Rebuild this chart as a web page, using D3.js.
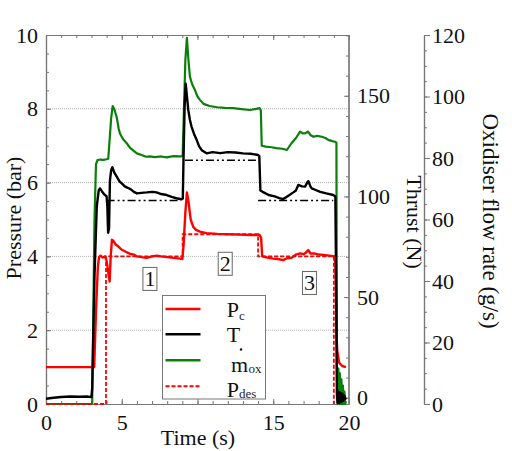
<!DOCTYPE html>
<html>
<head>
<meta charset="utf-8">
<script src="https://cdn.jsdelivr.net/npm/d3@7"></script>
<style>
  html, body { margin: 0; padding: 0; background: #fff; }
  svg { display: block; }
</style>
</head>
<body>
<svg id="chart" width="512" height="451"></svg>
<script>
// ---------------- data ----------------
// Chamber pressure P_c (bar) vs time (s)
const pcSeries = [[0,1.0],[3.18,1.0],[3.3,2.5],[3.42,3.7],[3.5,3.98],[3.6,4.02],[3.75,3.97],[3.9,4.0],[4.0,3.88],[4.1,3.6],[4.2,3.32],[4.27,4.0],[4.35,4.45],[4.45,4.42],[4.6,4.32],[4.8,4.26],[5.0,4.18],[5.3,4.12],[5.55,4.07],[5.8,4.05],[6.0,4.0],[6.3,3.98],[6.65,3.96],[7.0,4.0],[7.3,4.02],[7.6,4.0],[8.0,3.98],[8.4,3.96],[8.85,3.94],[9.0,3.93],[9.08,4.3],[9.2,5.2],[9.3,5.73],[9.4,5.5],[9.55,5.0],[9.72,4.8],[9.9,4.72],[10.16,4.67],[10.6,4.63],[11.3,4.61],[12.0,4.6],[12.8,4.59],[13.5,4.58],[14.1,4.58],[14.2,4.5],[14.27,4.0],[14.6,3.97],[15.0,3.94],[15.3,3.93],[15.66,3.9],[15.9,3.95],[16.2,3.96],[16.5,4.05],[16.77,4.08],[17.0,4.06],[17.15,4.1],[17.32,4.17],[17.45,4.08],[17.7,4.08],[18.0,4.05],[18.3,4.04],[18.7,4.02],[19.08,4.0],[19.12,3.5],[19.17,2.0],[19.22,1.45],[19.35,1.12],[19.55,1.03],[19.8,1.0]];
// Thrust T (N)
const thrustSeries = [[0,-0.5],[0.5,0],[1.0,0.4],[1.6,0.6],[2.2,0.5],[2.7,0.6],[3.0,0.3],[3.05,5],[3.2,60],[3.35,95],[3.48,103],[3.56,104],[3.7,102.5],[3.85,101],[4.0,100],[4.05,95],[4.1,82],[4.16,84],[4.22,108],[4.3,113],[4.38,114.5],[4.5,112],[4.66,110],[4.85,107.5],[5.0,106.5],[5.2,105],[5.4,104.3],[5.6,103.5],[5.8,102.3],[6.0,101.5],[6.3,101.8],[6.65,102],[7.0,102.3],[7.3,102],[7.6,101.2],[7.97,100.7],[8.3,99.8],[8.6,99.1],[8.95,98.6],[9.03,99],[9.08,120],[9.15,145],[9.22,156],[9.3,150],[9.39,143],[9.5,138],[9.61,134.6],[9.8,130.5],[9.95,128],[10.1,125],[10.28,123],[10.6,121.4],[11.0,122],[11.5,121.5],[12.0,122],[12.5,121.8],[13.0,121.4],[13.5,121.2],[14.0,120.6],[14.08,120],[14.15,103],[14.3,102.3],[14.7,100.7],[15.1,100],[15.4,99.2],[15.66,98.7],[15.9,99.9],[16.3,101.9],[16.5,103],[16.65,105.7],[16.9,105],[17.1,104.9],[17.25,107],[17.32,107.6],[17.45,105],[17.54,104],[17.8,103.2],[18.1,102.3],[18.5,101.5],[18.96,100.7],[19.1,100],[19.17,40],[19.2,2],[19.25,-2.5],[19.3,3],[19.37,-2.5],[19.44,2.5],[19.5,-2],[19.57,2],[19.63,-1.5],[19.7,1],[19.76,-0.5],[19.8,0]];
// Oxidiser mass flow rate (g/s)
const moxSeries = [[0,0],[3.05,0],[3.1,20],[3.2,60],[3.3,78],[3.4,79.3],[3.6,79.5],[3.8,79.4],[4.0,79.6],[4.11,79.8],[4.2,86],[4.3,93],[4.4,96.9],[4.5,96],[4.66,93.4],[4.8,89.5],[4.88,88],[5.1,86],[5.33,84.8],[5.55,83.3],[5.77,82.4],[6.0,81.5],[6.31,81],[6.6,80.4],[6.85,80.5],[7.2,80.3],[7.6,80.5],[7.97,80.2],[8.4,80.6],[8.85,80.5],[9.02,80.6],[9.1,95],[9.2,112],[9.3,119.1],[9.4,112],[9.5,106.4],[9.65,104],[9.83,102.1],[10.0,100],[10.16,98.9],[10.4,97.6],[10.8,96.9],[11.3,96.5],[11.8,96.3],[12.36,96.2],[12.9,95.9],[13.47,95.6],[14.1,96.2],[14.18,95.5],[14.24,84],[14.5,83.7],[14.9,83.5],[15.2,83.2],[15.6,83.0],[15.9,82.6],[16.2,84.8],[16.5,86.5],[16.77,88.6],[16.95,88.0],[17.1,88],[17.3,88.6],[17.45,87.5],[17.65,86.9],[17.9,87.2],[18.2,86.9],[18.45,86.5],[18.63,85.9],[18.9,85.5],[19.08,85.3],[19.17,85],[19.2,13],[19.24,0],[19.3,11.5],[19.35,0],[19.4,10],[19.45,0],[19.5,8],[19.55,0],[19.6,6],[19.65,0],[19.7,4],[19.75,0],[19.8,1]];
// Desired pressure P_des (bar)
const pdesSeries = [[0,0],[3.96,0],[3.96,4.0],[9.02,4.0],[9.02,4.6],[14.0,4.6],[14.0,4.0],[19.0,4.0],[19.0,0]];
// Desired thrust (N), null = gap
const tdesSeries = [[4.0,98],[8.9,98],null,[9.17,118],[14.0,118],null,[14.0,98],[18.96,98]];
// phase annotations
const phaseLabels = ["1","2","3"];
const phaseTimes = [6.86, 11.83, 17.39];
const phasePressures = [3.39, 3.8, 3.28];
// ticks
const xTickLabels = [0, 5, 15, 20];
const pressureTicks = [0, 2, 4, 6, 8, 10];
const pressureGrid = [2, 4, 6, 8];
const thrustTicks = [0, 50, 100, 150];
const moxTicks = [0, 20, 40, 60, 80, 100, 120];
const legendNames = ["P", "T", "m", "P"];
const legendSubs = ["c", "", "ox", "des"];

// ---------------- chart ----------------
const FONT = '"Liberation Serif"';
const svg = d3.select("#chart");
const L = 46, R = 349, T = 35, B = 404, AX3 = 424;
const x = d3.scaleLinear([0, 20], [L, R]);
const yP = d3.scaleLinear([0, 10], [B, T]);
const yT = d3.scaleLinear([-3.1, 180.2], [B, T]);
const yM = d3.scaleLinear([0, 120], [B, T]);
const axisCol = "#777";

// grid
svg.append("g").selectAll("line").data(pressureGrid).join("line")
  .attr("x1", L).attr("x2", R).attr("y1", d => yP(d)).attr("y2", d => yP(d))
  .attr("stroke", "#999").attr("stroke-width", 0.8).attr("stroke-dasharray", "1,1");

function styleAxis(g, fs) {
  g.attr("font-family", null).attr("font-size", null);
  g.selectAll(".domain").attr("stroke", axisCol).attr("stroke-width", 1.2);
  g.selectAll(".tick line").attr("stroke", axisCol).attr("stroke-width", 1);
  g.selectAll("text").attr("font-family", FONT).attr("font-size", fs || 22).attr("fill", "#111");
}

// bottom axis
const gxMinor = svg.append("g").attr("transform", `translate(0,${B})`)
  .call(d3.axisBottom(x).ticks(20).tickSize(-3).tickSizeOuter(0).tickFormat(""));
styleAxis(gxMinor);
const gx = svg.append("g").attr("transform", `translate(0,${B})`)
  .call(d3.axisBottom(x).tickValues([0,5,10,15,20]).tickSize(-5).tickSizeOuter(0).tickPadding(10)
    .tickFormat(d => xTickLabels.includes(d) ? d : ""));
styleAxis(gx);
// top axis
const gtMinor = svg.append("g").attr("transform", `translate(0,${T})`)
  .call(d3.axisTop(x).ticks(20).tickSize(-3).tickSizeOuter(0).tickFormat(""));
styleAxis(gtMinor);
const gt = svg.append("g").attr("transform", `translate(0,${T})`)
  .call(d3.axisTop(x).tickValues([0,5,10,15,20]).tickSize(-5).tickSizeOuter(0).tickFormat(""));
styleAxis(gt);

// left pressure axis
const gyMinor = svg.append("g").attr("transform", `translate(${L},0)`)
  .call(d3.axisLeft(yP).ticks(20).tickSize(-3).tickSizeOuter(0).tickFormat(""));
styleAxis(gyMinor);
const gy = svg.append("g").attr("transform", `translate(${L},0)`)
  .call(d3.axisLeft(yP).tickValues(pressureTicks).tickSize(-5).tickSizeOuter(0).tickPadding(8).tickFormat(d3.format("d")));
styleAxis(gy);

// right thrust axis
const gtrMinor = svg.append("g").attr("transform", `translate(${R},0)`)
  .call(d3.axisRight(yT).tickValues(d3.range(0, 181, 10)).tickSize(-3).tickSizeOuter(0).tickFormat(""));
styleAxis(gtrMinor);
const gtr = svg.append("g").attr("transform", `translate(${R},0)`)
  .call(d3.axisRight(yT).tickValues(thrustTicks).tickSize(-5).tickSizeOuter(0).tickPadding(8).tickFormat(d3.format("d")));
styleAxis(gtr);
gtr.select(".domain").attr("d", `M0,${T}V${B}`);
gtrMinor.select(".domain").attr("d", `M0,${T}V${B}`);

// third oxidiser axis
const gmMinor = svg.append("g").attr("transform", `translate(${AX3},0)`)
  .call(d3.axisRight(yM).tickValues(d3.range(0, 121, 5)).tickSize(3).tickSizeOuter(0).tickFormat(""));
styleAxis(gmMinor);
const gm = svg.append("g").attr("transform", `translate(${AX3},0)`)
  .call(d3.axisRight(yM).tickValues(moxTicks).tickSize(6).tickSizeOuter(0).tickPadding(2).tickFormat(d3.format("d")));
styleAxis(gm);

// series
const lineP = d3.line().x(d => x(d[0])).y(d => yP(d[1]));
const lineT = d3.line().defined(d => d !== null).x(d => x(d[0])).y(d => yT(d[1]));
const lineM = d3.line().x(d => x(d[0])).y(d => yM(d[1]));

svg.append("path").datum(moxSeries).attr("d", lineM)
  .attr("fill", "none").attr("stroke", "#0a800a").attr("stroke-width", 2.2).attr("stroke-linejoin", "round");
svg.append("path").datum(pcSeries).attr("d", lineP)
  .attr("fill", "none").attr("stroke", "#ff0000").attr("stroke-width", 2.4).attr("stroke-linejoin", "round");
svg.append("path").datum(thrustSeries).attr("d", lineT)
  .attr("fill", "none").attr("stroke", "#000").attr("stroke-width", 2.4).attr("stroke-linejoin", "round");
svg.append("path").datum(pdesSeries).attr("d", lineP)
  .attr("fill", "none").attr("stroke", "#ff0000").attr("stroke-width", 1.8).attr("stroke-dasharray", "4,2");
svg.append("path").datum(tdesSeries).attr("d", lineT)
  .attr("fill", "none").attr("stroke", "#000").attr("stroke-width", 1.4).attr("stroke-dasharray", "8,3,2,3,2,3");

// phase boxes
const ph = svg.append("g").selectAll("g").data(phaseLabels).join("g")
  .attr("transform", (d, i) => `translate(${x(phaseTimes[i])},${yP(phasePressures[i])})`);
ph.append("rect").attr("x", -7).attr("y", -11.5).attr("width", 14).attr("height", 23)
  .attr("fill", "#fff").attr("stroke", "#666").attr("stroke-width", 1);
ph.append("text").attr("text-anchor", "middle").attr("y", 7.5).attr("font-size", 22)
  .attr("font-family", FONT).attr("fill", "#111").text(d => d);

// legend
const lg = svg.append("g");
lg.append("rect").attr("x", 162.5).attr("y", 295.5).attr("width", 103).attr("height", 103.5)
  .attr("fill", "#fff").attr("stroke", "#777").attr("stroke-width", 1);
const legendRows = [
  {col: "#ff0000", dash: null, w: 2.4, y: 309, tb: 316.7, sb: 319.5, sx: 239},
  {col: "#000", dash: null, w: 2.4, y: 334.3, tb: 342.3, sb: 345, sx: 240},
  {col: "#0a800a", dash: null, w: 2.4, y: 360.3, tb: 371.7, sb: 373, sx: 248.5},
  {col: "#ff0000", dash: "4,2", w: 2, y: 386.3, tb: 397.3, sb: 398.3, sx: 239}
];
legendRows.forEach((r, i) => {
  lg.append("line").attr("x1", 165.5).attr("x2", 200.5).attr("y1", r.y).attr("y2", r.y)
    .attr("stroke", r.col).attr("stroke-width", r.w).attr("stroke-dasharray", r.dash);
  lg.append("text").attr("x", i === 2 ? 231 : 226.7).attr("y", r.tb).attr("font-size", 22)
    .attr("font-family", FONT).attr("fill", "#111").text(legendNames[i]);
  if (legendSubs[i]) lg.append("text").attr("x", r.sx).attr("y", r.sb).attr("font-size", 13)
    .attr("font-family", FONT).attr("fill", "#223").text(legendSubs[i]);
});
lg.append("circle").attr("cx", 241).attr("cy", 349.5).attr("r", 1.2).attr("fill", "#111");

// axis titles
function title(px, py, rot, txt, fs) {
  svg.append("text").attr("transform", `translate(${px},${py}) rotate(${rot})`).attr("text-anchor", "middle")
    .attr("font-size", fs).attr("font-family", FONT).attr("fill", "#111").text(txt);
}
title(198, 445, 0, "Time (s)", 22);
title(21, 218, -90, "Pressure (bar)", 22);
title(407, 222, 90, "Thrust (N)", 22);
title(483, 221, 90, "Oxidiser flow rate (g/s)", 23);
</script>
</body>
</html>
